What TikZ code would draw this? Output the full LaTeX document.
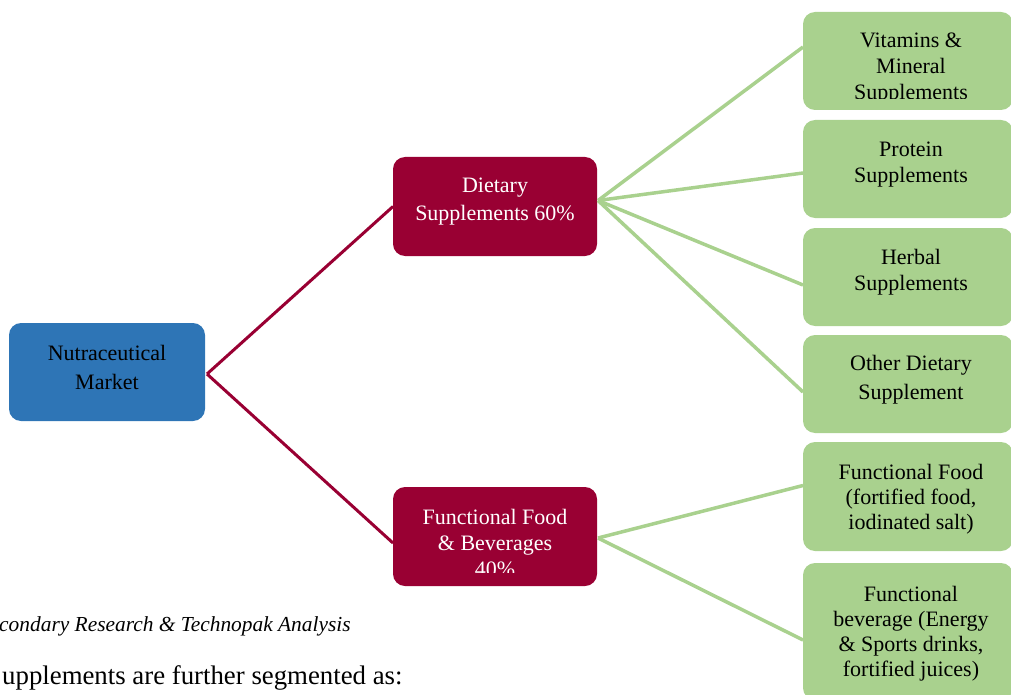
\documentclass[tikz,border=0pt]{standalone}
\usepackage{fontspec}
\setmainfont{Liberation Serif}
\usetikzlibrary{calc}
\definecolor{cblue}{HTML}{2E75B6}
\definecolor{cred}{HTML}{990033}
\definecolor{cgreen}{HTML}{A9D18E}
\begin{document}
\begin{tikzpicture}[x=1pt,y=-1pt,
  box/.style={rounded corners=12pt, inner sep=0pt, outer sep=0pt, minimum width=#1},
  bluebox/.style={box=196pt, fill=cblue},
  redbox/.style={box=204pt, fill=cred},
  greenbox/.style={box=210pt, fill=cgreen},
  txt/.style={align=center, font=\fontsize{22}{26}\selectfont, inner sep=0pt},
  redline/.style={draw=cred, line width=3pt},
  greenline/.style={draw=cgreen, line width=3.5pt}]
\useasboundingbox (0,0) rectangle (1011,695);
\clip (0,0) rectangle (1011,695);
% boxes
\node[bluebox, minimum height=98pt] (nm) at (107,372) {};
\node[redbox, minimum height=99pt] (ds) at (495,206.5) {};
\node[redbox, minimum height=99pt] (ff) at (495,536.5) {};
\node[greenbox, minimum height=98pt] (g1) at (908,61) {};
\node[greenbox, minimum height=98pt] (g2) at (908,169) {};
\node[greenbox, minimum height=98pt] (g3) at (908,277) {};
\node[greenbox, minimum height=98pt] (g4) at (908,384) {};
\node[greenbox, minimum height=109pt] (g5) at (908,496.5) {};
\node[greenbox, minimum height=137pt] (g6) at (908,631.5) {};
% junctions
\coordinate (nj) at ($(nm.east)+(2,2)$);
\coordinate (dj) at ($(ds.east)+(1,-6)$);
\coordinate (fj) at ($(ff.east)+(1,1.5)$);
% connectors
\draw[redline] (nj) -- (ds.west);
\draw[redline] (nj) -- ($(ff.west)+(0,6.5)$);
\draw[greenline] (dj) -- ($(g1.west)+(0,-14)$);
\draw[greenline] (dj) -- ($(g2.west)+(0,4)$);
\draw[greenline] (dj) -- ($(g3.west)+(0,8)$);
\draw[greenline] (dj) -- ($(g4.west)+(0,8)$);
\draw[greenline] (fj) -- ($(g5.west)+(0,-11)$);
\draw[greenline] (fj) -- ($(g6.west)+(0,8.5)$);
% texts
\node[txt, font=\fontsize{22}{29}\selectfont] (tnm) at (107,367) {Nutraceutical\\Market};
\node[txt, text=white, font=\fontsize{22}{28}\selectfont] (tds) at (495,202) {Dietary\\Supplements 60\%};
\begin{scope}
\clip (393,487) rectangle (597,572);
\node[txt, text=white] (tff) at (495,543) {Functional Food\\\& Beverages\\40\%};
\end{scope}
\begin{scope}
\clip (803,12) rectangle (1013,98.5);
\node[txt] (t1) at (911,69) {Vitamins \&\\Mineral\\Supplements};
\end{scope}
\node[txt] (t2) at (911,165) {Protein\\Supplements};
\node[txt] (t3) at (911,272.5) {Herbal\\Supplements};
\node[txt, font=\fontsize{22}{29}\selectfont] (t4) at (911,380) {Other Dietary\\Supplement};
\node[txt, font=\fontsize{22}{25}\selectfont] (t5) at (911,499) {Functional Food\\(fortified food,\\iodinated salt)};
\node[txt, font=\fontsize{22}{25}\selectfont] (t6) at (911,634) {Functional\\beverage (Energy\\\& Sports drinks,\\fortified juices)};
\node[anchor=base west, inner sep=0pt, font=\fontsize{21.4}{26}\selectfont\itshape] (src) at (-1,631) {condary Research \& Technopak Analysis};
\node[anchor=base west, inner sep=0pt, font=\fontsize{26.8}{30}\selectfont] (seg) at (2,684) {upplements are further segmented as:};
\end{tikzpicture}
\end{document}
